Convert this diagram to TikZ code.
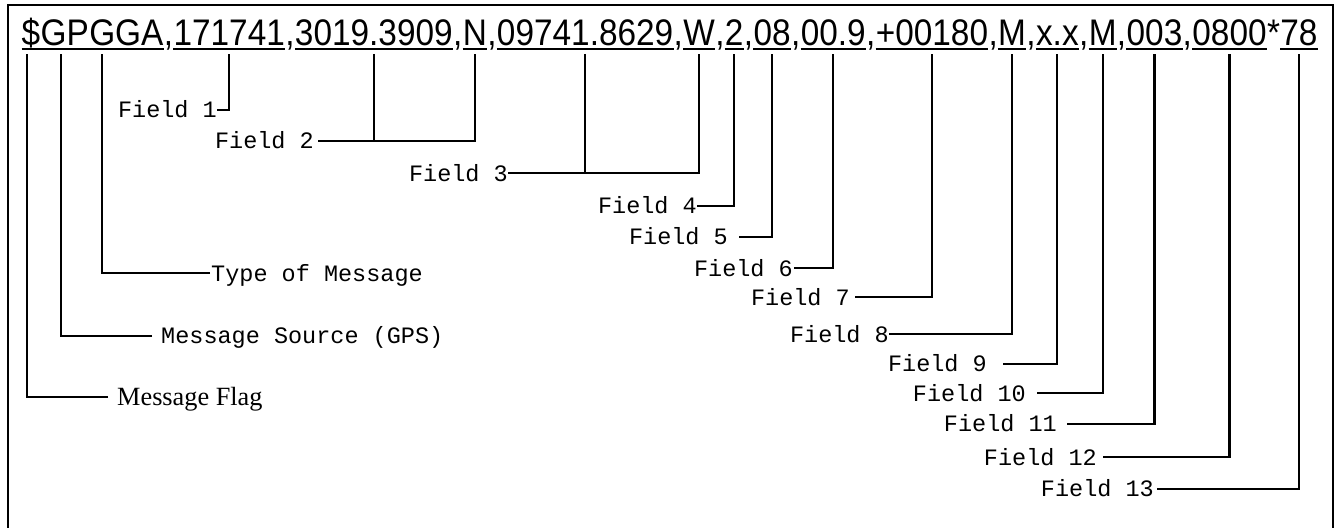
\documentclass[tikz,border=0pt]{standalone}
\usepackage{fontspec}
\setmainfont{Liberation Serif}
\newfontfamily\arialf{Liberation Sans}
\newfontfamily\courf{Liberation Mono}
\usepackage{graphicx}
\begin{document}
\begin{tikzpicture}[x=1pt,y=-1pt,
  seg/.style={inner sep=0pt, anchor=base west, font=\arialf\fontsize{37}{40}\selectfont},
  lab/.style={inner ysep=0pt, inner xsep=0pt, text height=15.5pt, text depth=0pt,
              font=\courf\fontsize{23.5}{26}\selectfont, anchor=east},
  serlab/.style={inner ysep=0pt, text height=17.4pt, text depth=0pt,
              font=\rmfamily\fontsize{26.3}{29}\selectfont, anchor=west},
  conn/.style={line width=2.2pt},
  uline/.style={line width=1.8pt},
  frame/.style={line width=2.6pt}]
\useasboundingbox (0,0) rectangle (1337,527);
\draw[frame] (8,545) -- (8,5) -- (1333,5) -- (1333,545);

% message text, one node per segment
\node[inner sep=0pt, anchor=base east] (start) at (21.5,45.5) {};
\foreach \n/\t [remember=\n as \last (initially start)] in
  {dollar/{\$}, gp/GP, gga/GGA, c1/{,}, t/171741, c2/{,}, lat/3019.3909, c3/{,},
   ns/N, c4/{,}, lon/09741.8629, c5/{,}, ew/W, c6/{,}, q/2, c7/{,}, sat/08, c8/{,},
   hd/00.9, c9/{,}, alt/+00180, c10/{,}, am/M, c11/{,}, gs/x.x, c12/{,}, gm/M, c13/{,},
   age/003, c14/{,}, sid/0800, star/*, cs/78}
  {\node[seg] (\n) at (\last.base east) {\scalebox{0.902}[1]{\t}};}

% underlines
\foreach \a/\b in {dollar/gga, t/t, lat/lat, ns/ns, lon/lon, ew/ew, q/q, sat/sat, hd/hd,
                   alt/alt, am/am, gs/gs, gm/gm, age/age, sid/sid, cs/cs}
  {\draw[uline] ([yshift=-3.6pt]\a.base west) -- ([yshift=-3.6pt]\b.base east);}

% tick tops
\coordinate (k-dollar) at ([xshift=-4.3pt,yshift=-8.5pt]dollar.base);
\coordinate (k-gp) at ([xshift=-3.5pt,yshift=-8.5pt]gp.base);
\coordinate (k-gga) at ([xshift=-24pt,yshift=-8.5pt]gga.base);
\foreach \n in {t, lat, ns, lon, ew, q, sat, hd, alt, am, gs, gm, age, sid, cs}
  {\coordinate (k-\n) at ([yshift=-8.5pt]\n.base);}

% labels
\node[lab] (F1) at (217,110) {Field 1};
\node[lab, inner xsep=4pt] (F2) at (318,140.7) {Field 2};
\node[lab] (F3) at (508,173.3) {Field 3};
\node[lab] (F4) at (697,205.7) {Field 4};
\node[lab, inner xsep=11pt] (F5) at (739,236.7) {Field 5};
\node[lab, inner xsep=1pt] (F6) at (794,268.3) {Field 6};
\node[lab, inner xsep=5pt] (F7) at (855,297.3) {Field 7};
\node[lab] (F8) at (889,334.3) {Field 8};
\node[lab, inner xsep=16pt] (F9) at (1003,364) {Field 9};
\node[lab, inner xsep=11pt] (F10) at (1037,393.3) {Field 10};
\node[lab, inner xsep=10pt] (F11) at (1067,424) {Field 11};
\node[lab, inner xsep=6pt] (F12) at (1103,457.3) {Field 12};
\node[lab, inner xsep=3pt] (F13) at (1157,489) {Field 13};
\node[lab, anchor=west, inner xsep=1pt] (TM) at (210,273.3) {Type of Message};
\node[lab, anchor=west, inner xsep=9pt] (MS) at (152,336) {Message Source (GPS)};
\node[serlab, inner xsep=9pt] (MF) at (108,396.7) {Message Flag};

% connectors
\draw[conn] (F1.east) -| (k-t);
\draw[conn] (F2.east) -| (k-ns);
\draw[conn] (k-lat) -- (k-lat |- F2.east);
\draw[conn] (F3.east) -| (k-ew);
\draw[conn] (k-lon) -- (k-lon |- F3.east);
\draw[conn] (F4.east) -| (k-q);
\draw[conn] (F5.east) -| (k-sat);
\draw[conn] (F6.east) -| (k-hd);
\draw[conn] (F7.east) -| (k-alt);
\draw[conn] (F8.east) -| (k-am);
\draw[conn] (F9.east) -| (k-gs);
\draw[conn] (F10.east) -| (k-gm);
\draw[conn] (F11.east) -| (k-age);
\draw[conn] (F12.east) -| (k-sid);
\draw[conn] (F13.east) -| (k-cs);
\draw[conn] (TM.west) -| (k-gga);
\draw[conn] (MS.west) -| (k-gp);
\draw[conn] (MF.west) -| (k-dollar);
\end{tikzpicture}
\end{document}
